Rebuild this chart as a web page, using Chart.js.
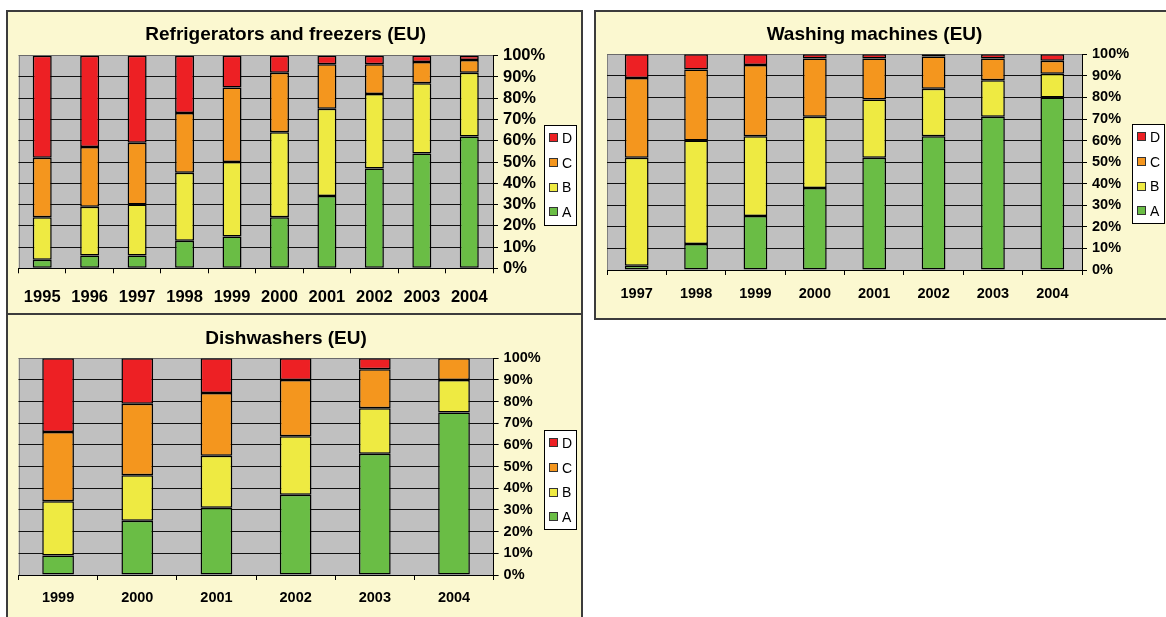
<!DOCTYPE html>
<html>
<head>
<meta charset="utf-8">
<script src="https://cdn.jsdelivr.net/npm/chart.js@4"></script>
<style>
  body { margin: 0; background: #fff; width: 1166px; height: 617px; overflow: hidden; position: relative; }
  .panel { position: absolute; box-sizing: border-box; border: 2px solid #3c3c3c; background: #fbf8d0; }
  canvas { position: absolute; }
</style>
</head>
<body>
<div class="panel" style="left:6px;top:10px;width:577px;height:305px"></div>
<div class="panel" style="left:6px;top:313px;width:577px;height:320px"></div>
<div class="panel" style="left:594px;top:10px;width:590px;height:310px"></div>
<canvas id="fridges" width="575" height="303" style="left:7px;top:11px"></canvas>
<canvas id="washers" width="577" height="308" style="left:595px;top:11px"></canvas>
<canvas id="dishwashers" width="575" height="303" style="left:7px;top:314px"></canvas>
<script>
// energy label shares (%)
const fridgeYears = ['1995', '1996', '1997', '1998', '1999', '2000', '2001', '2002', '2003', '2004'];
const fridgeA = [4, 6, 6, 13, 15, 24, 34, 47, 54, 62];
const fridgeB = [20, 23, 24, 32, 35, 40, 41, 35, 33, 30];
const fridgeC = [28, 28, 29, 28, 35, 28, 21, 14, 10, 6];
const fridgeD = [48, 43, 41, 27, 15, 8, 4, 4, 3, 2];

const washYears = ['1997', '1998', '1999', '2000', '2001', '2002', '2003', '2004'];
const washA = [2, 12, 25, 38, 52, 62, 71, 80];
const washB = [50, 48, 37, 33, 27, 22, 17, 11];
const washC = [37, 33, 33, 27, 19, 15, 10, 6];
const washD = [11, 7, 5, 2, 2, 1, 2, 3];

const dishYears = ['1999', '2000', '2001', '2002', '2003', '2004'];
const dishA = [9, 25, 31, 37, 56, 75];
const dishB = [25, 21, 24, 27, 21, 15];
const dishC = [32, 33, 29, 26, 18, 10];
const dishD = [34, 21, 16, 10, 5, 0];

const classNames = ['A', 'B', 'C', 'D'];
const classColors = ['#6abd45', '#eeea42', '#f4961e', '#ed2024'];
const yTicks = [0, 10, 20, 30, 40, 50, 60, 70, 80, 90, 100];

const FONT = "'Liberation Sans', Arial, sans-serif";

// grey plot area like excel
const plotBg = {
    id: 'plotBg',
    beforeDraw(chart) {
        const a = chart.chartArea;
        const ctx = chart.ctx;
        ctx.save();
        ctx.fillStyle = '#c0c0c0';
        ctx.fillRect(a.left, a.top, a.right - a.left, a.bottom - a.top);
        ctx.strokeStyle = '#808080';
        ctx.lineWidth = 1;
        ctx.beginPath();
        ctx.moveTo(Math.round(a.left) + 0.5, a.top);
        ctx.lineTo(Math.round(a.left) + 0.5, a.bottom);
        ctx.stroke();
        ctx.restore();
    }
};

// legend in a white box, D on top
const boxLegend = {
    id: 'boxLegend',
    afterDraw(chart, args, opts) {
        const ctx = chart.ctx;
        ctx.save();
        ctx.fillStyle = '#fff';
        ctx.fillRect(opts.x, opts.y, opts.w, opts.h);
        ctx.strokeStyle = '#000';
        ctx.lineWidth = 1;
        ctx.strokeRect(opts.x + 0.5, opts.y + 0.5, opts.w, opts.h);
        const sets = chart.data.datasets.slice().reverse();
        ctx.font = '14px ' + FONT;
        ctx.textBaseline = 'middle';
        sets.forEach((ds, i) => {
            const cy = opts.y + 13 + i * 24.8;
            ctx.fillStyle = ds.backgroundColor;
            ctx.fillRect(opts.x + 6, Math.round(cy - 4), 7, 7);
            ctx.strokeStyle = '#333';
            ctx.strokeRect(opts.x + 5.5, Math.round(cy - 4) - 0.5, 8, 8);
            ctx.fillStyle = '#000';
            ctx.fillText(ds.label, opts.x + 18, cy + 1);
        });
        ctx.restore();
    }
};

function stackedChart(id, title, years, series, s) {
    const datasets = series.map((vals, i) => ({
        label: classNames[i],
        data: vals,
        backgroundColor: classColors[i],
        borderColor: '#000',
        borderWidth: 1.5,
        borderSkipped: false,
        inflateAmount: 0,
        barPercentage: 0.4,
        categoryPercentage: 1
    }));
    return new Chart(document.getElementById(id), {
        type: 'bar',
        data: { labels: years, datasets },
        plugins: [plotBg, boxLegend],
        options: {
            responsive: false,
            animation: false,
            devicePixelRatio: 1,
            layout: { padding: s.pad },
            plugins: {
                legend: { display: false },
                tooltip: { enabled: false },
                title: {
                    display: true,
                    text: title,
                    color: '#000',
                    font: { family: FONT, size: 19, weight: 'bold' },
                    padding: s.titlePad
                },
                boxLegend: s.legend
            },
            scales: {
                x: {
                    stacked: true,
                    afterFit: sc => { sc.height = 35; },
                    grid: { offset: true, drawOnChartArea: false, color: '#000', tickLength: 5 },
                    border: { color: '#000' },
                    ticks: { color: '#000', padding: s.xPad, maxRotation: 0, autoSkip: false,
                        font: { family: FONT, size: s.fontSize, weight: 'bold' } }
                },
                y: {
                    stacked: true,
                    position: 'right',
                    min: 0,
                    max: 100,
                    afterFit: sc => { sc.width = 60; },
                    afterBuildTicks: sc => { sc.ticks = yTicks.map(v => ({ value: v })); },
                    grid: {
                        color: c => (c.tick && c.tick.value === 100) ? '#6a6a6a' : '#111',
                        tickColor: '#000',
                        tickLength: 5
                    },
                    border: { color: '#000' },
                    ticks: { color: '#000', padding: 5, autoSkip: false, callback: v => v + '%',
                        font: { family: FONT, size: s.fontSize, weight: 'bold' } }
                }
            }
        }
    });
}

stackedChart('fridges', 'Refrigerators and freezers (EU)', fridgeYears,
    [fridgeA, fridgeB, fridgeC, fridgeD], {
        pad: { left: 11.5, right: 29, top: 0, bottom: 10.7 },
        titlePad: { top: 12.6, bottom: 9.3 },
        xPad: 14,
        fontSize: 16.5,
        legend: { x: 537, y: 114, w: 32, h: 100 }
    });

stackedChart('washers', 'Washing machines (EU)', washYears,
    [washA, washB, washC, washD], {
        pad: { left: 12, right: 30, top: 0, bottom: 14 },
        titlePad: { top: 12.6, bottom: 7.9 },
        xPad: 10,
        fontSize: 14.5,
        legend: { x: 537, y: 113, w: 32, h: 99 }
    });

stackedChart('dishwashers', 'Dishwashers (EU)', dishYears,
    [dishA, dishB, dishC, dishD], {
        pad: { left: 11.5, right: 28.4, top: 0, bottom: 7 },
        titlePad: { top: 13.6, bottom: 7.9 },
        xPad: 9.5,
        fontSize: 14.5,
        legend: { x: 537, y: 116, w: 32, h: 99 }
    });
</script>
</body>
</html>
